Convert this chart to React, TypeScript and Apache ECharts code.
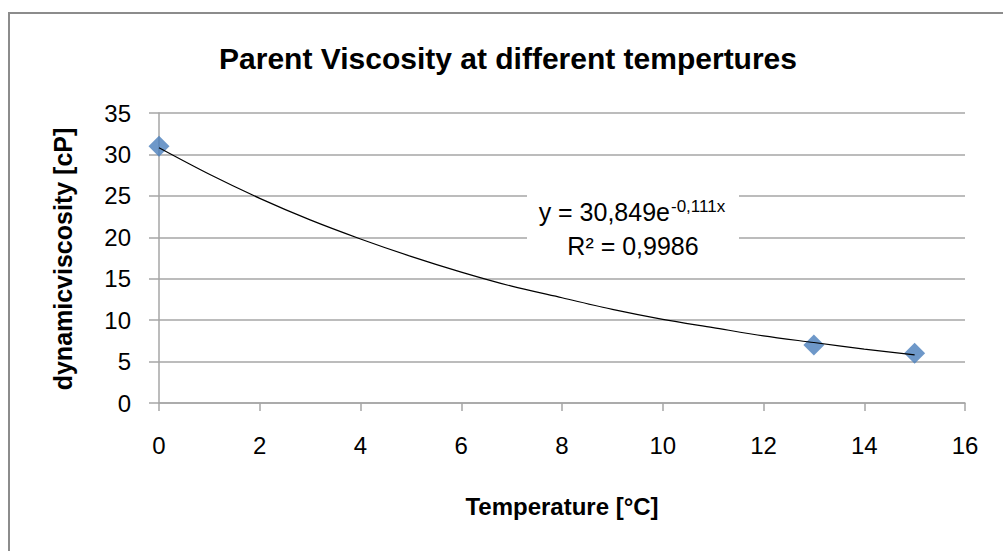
import React, { useEffect, useRef } from "react";
import * as echarts from "echarts";

const temperatures = [0, 13, 15];
const viscosities = [31, 7, 6];

// trendline
const trendX = [0, 1, 2, 3, 4, 5, 6, 7, 8, 9, 10, 11, 12, 13, 14, 15];
const trendY = [30.8, 27.6, 24.7, 22.1, 19.8, 17.7, 15.8, 14.1, 12.7, 11.3, 10.1, 9.1, 8.1, 7.3, 6.5, 5.8];

const titleText = "Parent Viscosity at different tempertures";
const xName = "Temperature [°C]";
const yName = "dynamicviscosity [cP]";
const eqLine1 = "y = 30,849e";
const eqSup = "-0,111x";
const eqLine2 = "R² = 0,9986";

const FONT = "'Liberation Sans', Arial, sans-serif";

export default function App() {
  const ref = useRef<HTMLDivElement>(null);
  useEffect(() => {
    if (!ref.current) return;
    const chart = echarts.init(ref.current, undefined, { renderer: "svg" });
    const gridColor = "#a6a6a6";
    chart.setOption({
      animation: false,
      backgroundColor: "#ffffff",
      grid: { left: 159, top: 113, right: 38, bottom: 148, containLabel: false },
      xAxis: {
        type: "value",
        min: 0,
        max: 16,
        interval: 2,
        axisLine: { show: true, onZero: false, lineStyle: { color: gridColor, width: 1.5 } },
        axisTick: { show: true, length: 8, lineStyle: { color: gridColor, width: 1.5 } },
        splitLine: { show: false },
        axisLabel: { color: "#000", fontFamily: FONT, fontSize: 24, margin: 30 },
      },
      yAxis: {
        type: "value",
        min: 0,
        max: 35,
        interval: 5,
        axisLine: { show: true, lineStyle: { color: gridColor, width: 1.5 } },
        axisTick: { show: true, length: 10, lineStyle: { color: gridColor, width: 1.5 } },
        splitLine: { show: true, lineStyle: { color: gridColor, width: 1.5 } },
        axisLabel: { color: "#000", fontFamily: FONT, fontSize: 24, margin: 28 },
      },
      series: [
        {
          type: "scatter",
          data: temperatures.map((t, i) => [t, viscosities[i]]),
          symbol: "diamond",
          symbolSize: 21,
          itemStyle: { color: "#4a7ebb" },
          z: 2,
        },
        {
          type: "line",
          data: trendX.map((t, i) => [t, trendY[i]]),
          smooth: 0.3,
          showSymbol: false,
          symbol: "none",
          lineStyle: { color: "#000", width: 1.2 },
          z: 3,
        },
      ],
      graphic: [
        {
          type: "polyline",
          shape: { points: [[9, 551], [9, 13], [1003, 13]] },
          style: { stroke: "#8c8c8c", lineWidth: 2, fill: null },
          z: 10,
        },
        {
          type: "text",
          x: 508,
          y: 58,
          style: {
            text: titleText,
            font: `bold 30px ${FONT}`,
            fill: "#000",
            textAlign: "center",
            textVerticalAlign: "middle",
          },
        },
        {
          type: "text",
          x: 562,
          y: 506,
          style: {
            text: xName,
            font: `bold 24px ${FONT}`,
            fill: "#000",
            textAlign: "center",
            textVerticalAlign: "middle",
          },
        },
        {
          type: "text",
          x: 63,
          y: 259,
          rotation: Math.PI / 2,
          style: {
            text: yName,
            font: `bold 25px ${FONT}`,
            fill: "#000",
            textAlign: "center",
            textVerticalAlign: "middle",
          },
        },
        {
          type: "rect",
          shape: { x: 527, y: 188, width: 212, height: 80 },
          style: { fill: "#ffffff" },
          z: 20,
        },
        {
          type: "text",
          x: 670,
          y: 212,
          z: 21,
          style: {
            text: eqLine1,
            font: `25px ${FONT}`,
            fill: "#000",
            textAlign: "right",
            textVerticalAlign: "middle",
          },
        },
        {
          type: "text",
          x: 671,
          y: 206,
          z: 21,
          style: {
            text: eqSup,
            font: `17px ${FONT}`,
            fill: "#000",
            textAlign: "left",
            textVerticalAlign: "middle",
          },
        },
        {
          type: "text",
          x: 633,
          y: 246,
          z: 21,
          style: {
            text: eqLine2,
            font: `25px ${FONT}`,
            fill: "#000",
            textAlign: "center",
            textVerticalAlign: "middle",
          },
        },
      ],
    });
    return () => chart.dispose();
  }, []);
  return (
    <div
      ref={ref}
      style={{ position: "fixed", left: 0, top: 0, width: 1003, height: 551, background: "#fff" }}
    />
  );
}
